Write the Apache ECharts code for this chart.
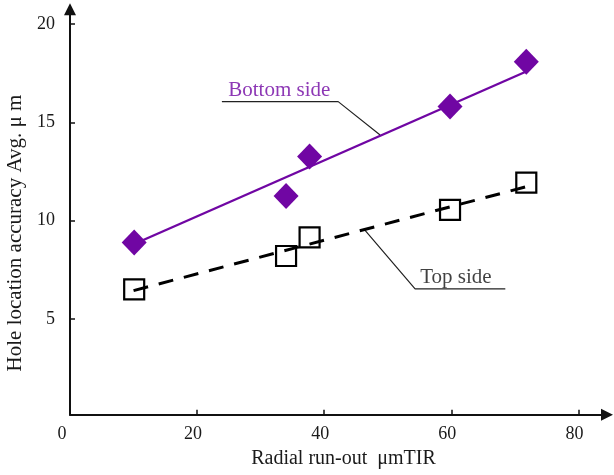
<!DOCTYPE html>
<html><head><meta charset="utf-8">
<script src="https://cdn.jsdelivr.net/npm/echarts@6/dist/echarts.min.js"></script>
<style>html,body{margin:0;padding:0;background:#fff}#c{width:614px;height:475px}</style>
</head><body><div id="c"></div>
<script>
// ---- data ----
const runOut = [10.1, 34.0, 37.7, 59.8, 71.8];          // x (µm TIR)
const bottomSide = [8.89, 11.26, 13.26, 15.80, 18.08];  // diamonds
const topSide = [6.52, 8.21, 9.16, 10.55, 11.94];       // squares
const bottomFitX = [10.1, 71.8];
const bottomFitY = [8.82, 17.58];
const topFitX = [10.0, 71.8];
const topFitY = [6.45, 11.73];
const xTicks = [0, 20, 40, 60, 80];
const yTicks = [5, 10, 15, 20];
const bottomLeaderX = [23.9, 42.2, 48.8];
const bottomLeaderY = [16.05, 16.05, 14.36];
const topLeaderX = [46.4, 54.3, 68.5];
const topLeaderY = [9.53, 6.54, 6.54];
const annotationText = ['Bottom side', 'Top side'];
const annotationX = [24.9, 55.1];
const annotationY = [16.62, 7.12];
const xTitle = 'Radial run-out  \u03bcmTIR';
const yTitle = 'Hole location accuracy Avg. \u03bc m';

const PURPLE = '#7006a3';
const SERIF = '"Liberation Serif", "DejaVu Serif", serif';
const pairs = (xs, ys) => xs.map((x, i) => [x, ys[i]]);

const chart = echarts.init(document.getElementById('c'), null, {renderer: 'canvas'});
chart.setOption({
  animation: false,
  backgroundColor: '#ffffff',
  grid: {left: 70, right: 7, top: 9.3, bottom: 60.3, containLabel: false, outerBoundsMode: 'none'},
  xAxis: {
    type: 'value', min: 0, max: 84.5,
    name: xTitle, nameLocation: 'middle', nameGap: 32,
    nameTextStyle: {fontFamily: SERIF, fontSize: 20, color: '#1a1a1a', padding: [0, 0, 0, 10]},
    axisLine: {onZero: false, symbol: ['none', 'triangle'], symbolSize: [12, 12], lineStyle: {color: '#111', width: 2}},
    axisTick: {inside: true, length: 5, customValues: xTicks, lineStyle: {color: '#111', width: 1.5}},
    axisLabel: {
      customValues: xTicks, margin: 11, fontFamily: SERIF, fontSize: 18, color: '#1a1a1a',
      padding: [0, 8, 0, 0],
      formatter: v => v === 0 ? '{z|0}' : String(v),
      rich: {z: {fontFamily: SERIF, fontSize: 18, color: '#1a1a1a', padding: [0, 8, 0, 0]}}
    },
    splitLine: {show: false}
  },
  yAxis: {
    type: 'value', min: 0.15, max: 20.74,
    name: yTitle, nameLocation: 'middle', nameGap: 40, nameRotate: 90,
    nameTextStyle: {fontFamily: SERIF, fontSize: 21, color: '#1a1a1a', padding: [0, 42, 0, 0]},
    axisLine: {onZero: false, symbol: ['none', 'triangle'], symbolSize: [12, 12], lineStyle: {color: '#111', width: 2}},
    axisTick: {inside: true, length: 5, customValues: yTicks, lineStyle: {color: '#111', width: 1.5}},
    axisLabel: {customValues: yTicks, margin: 15, fontFamily: SERIF, fontSize: 18, color: '#1a1a1a'},
    splitLine: {show: false}
  },
  series: [
    {
      name: 'Bottom side fit', type: 'line', data: pairs(bottomFitX, bottomFitY),
      symbol: 'none', lineStyle: {color: PURPLE, width: 2.4}, z: 2
    },
    {
      name: 'Top side fit', type: 'line', data: pairs(topFitX, topFitY),
      symbol: 'none', lineStyle: {color: '#000', width: 3, type: [15, 11]}, z: 2
    },
    {
      name: 'Bottom side', type: 'scatter', data: pairs(runOut, bottomSide),
      symbol: 'diamond', symbolSize: [25, 26], itemStyle: {color: PURPLE, opacity: 1}, z: 3
    },
    {
      name: 'Top side', type: 'scatter', data: pairs(runOut, topSide),
      symbol: 'rect', symbolSize: 20,
      itemStyle: {color: 'rgba(0,0,0,0)', borderColor: '#000', borderWidth: 2.2, opacity: 1}, z: 3
    },
    {
      name: 'Bottom leader', type: 'line', data: pairs(bottomLeaderX, bottomLeaderY),
      symbol: 'none', lineStyle: {color: '#222', width: 1.2}, z: 1
    },
    {
      name: 'Top leader', type: 'line', data: pairs(topLeaderX, topLeaderY),
      symbol: 'none', lineStyle: {color: '#222', width: 1.2}, z: 1
    },
    {
      name: 'Annotations', type: 'scatter', symbolSize: 0, silent: true, z: 4,
      data: annotationText.map((t, i) => ({
        name: t, value: [annotationX[i], annotationY[i]],
        label: {color: i === 0 ? PURPLE : '#111'}
      })),
      label: {
        show: true, position: 'right', distance: 0, formatter: p => p.name,
        fontFamily: SERIF, fontSize: 21, verticalAlign: 'middle', align: 'left'
      }
    }
  ]
});
</script>
</body></html>
